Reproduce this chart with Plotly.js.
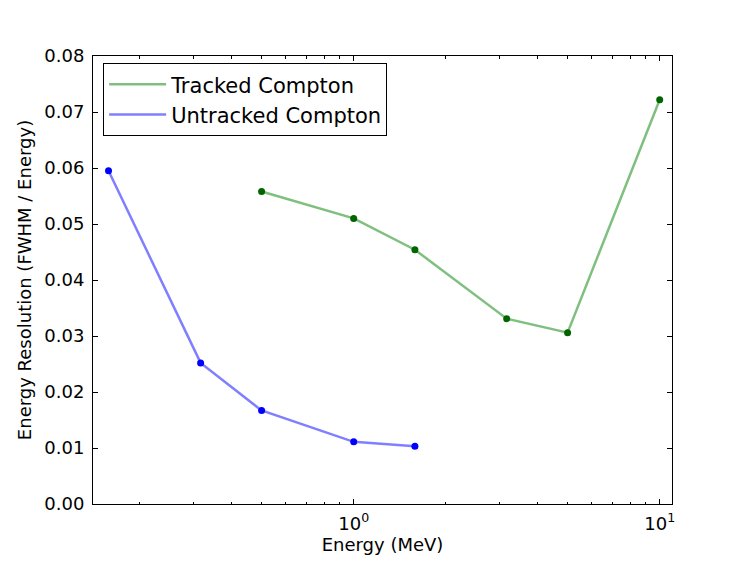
<!DOCTYPE html>
<html>
<head>
<meta charset="utf-8">
<script src="https://cdn.plot.ly/plotly-3.0.1.min.js"></script>
<style>
  html, body { margin: 0; padding: 0; background: #fff; }
  #chart { width: 747px; height: 561px; }
</style>
</head>
<body>
<div id="chart"></div>
<script>
// energies in MeV, resolution = FWHM / E
var trackedEnergy = [0.5, 1.0, 1.585, 3.162, 5.0, 10.0];
var trackedRes = [0.0558, 0.0510, 0.0454, 0.0331, 0.0306, 0.0722];

var untrackedEnergy = [0.158, 0.316, 0.5, 1.0, 1.585];
var untrackedRes = [0.0595, 0.0252, 0.0167, 0.0111, 0.0103];

var xTickVals = [1, 10];
var xTickText = ['10<sup>0</sup>', '10<sup>1</sup>'];
var xMinorTicks = [0.2, 0.3, 0.4, 0.5, 0.6, 0.7, 0.8, 0.9, 2, 3, 4, 5, 6, 7, 8, 9];

var FONT = 'DejaVu Sans, sans-serif';

function lineTrace(x, y, name, color) {
  return {
    x: x,
    y: y,
    name: name,
    type: 'scatter',
    mode: 'lines',
    line: { color: color, width: 2.5 },
    hoverinfo: 'skip'
  };
}

function dotTrace(x, y, color) {
  return {
    x: x,
    y: y,
    type: 'scatter',
    mode: 'markers',
    showlegend: false,
    marker: { color: color, size: 7 },
  };
}

var traces = [
  lineTrace(trackedEnergy, trackedRes, 'Tracked Compton', 'rgba(0,128,0,0.5)'),
  dotTrace(trackedEnergy, trackedRes, '#006400'),
  lineTrace(untrackedEnergy, untrackedRes, 'Untracked Compton', 'rgba(0,0,255,0.5)'),
  dotTrace(untrackedEnergy, untrackedRes, '#0000ff')
];

var layout = {
  width: 747,
  height: 561,
  margin: { l: 93, r: 75, t: 56, b: 57, pad: 0 },
  paper_bgcolor: '#fff',
  plot_bgcolor: '#fff',
  font: { family: FONT, size: 18, color: '#000' },
  showlegend: true,
  legend: {
    x: 0.0175,
    y: 0.984,
    xanchor: 'left',
    yanchor: 'top',
    bgcolor: '#fff',
    bordercolor: '#000',
    borderwidth: 1,
    itemwidth: 57,
    tracegroupgap: 0,
    font: { family: FONT, size: 21, color: '#000' }
  },
  xaxis: {
    type: 'log',
    range: [Math.log10(0.1406), Math.log10(10.97)],
    tickmode: 'array',
    tickvals: xTickVals,
    ticktext: xTickText,
    ticks: 'inside',
    ticklen: 5,
    tickwidth: 1,
    tickcolor: '#000',
    showline: true,
    linecolor: '#000',
    linewidth: 1,
    mirror: 'allticks',
    showgrid: false,
    zeroline: false,
    ticklabelstandoff: 3,
    minor: {
      tickmode: 'array',
      tickvals: xMinorTicks,
      ticks: 'inside',
      ticklen: 2.5,
      tickwidth: 1,
      tickcolor: '#000',
      showgrid: false
    },
    title: { text: 'Energy (MeV)', font: { family: FONT, size: 18 }, standoff: 5 }
  },
  yaxis: {
    range: [0, 0.08],
    dtick: 0.01,
    tickformat: '.2f',
    ticks: 'inside',
    ticklen: 5,
    tickwidth: 1,
    tickcolor: '#000',
    showline: true,
    linecolor: '#000',
    linewidth: 1,
    mirror: 'allticks',
    showgrid: false,
    zeroline: false,
    ticklabelstandoff: 4,
    title: { text: 'Energy Resolution (FWHM / Energy)', font: { family: FONT, size: 18 }, standoff: 8 }
  }
};

Plotly.newPlot('chart', traces, layout, { staticPlot: true, displayModeBar: false });
</script>
</body>
</html>
